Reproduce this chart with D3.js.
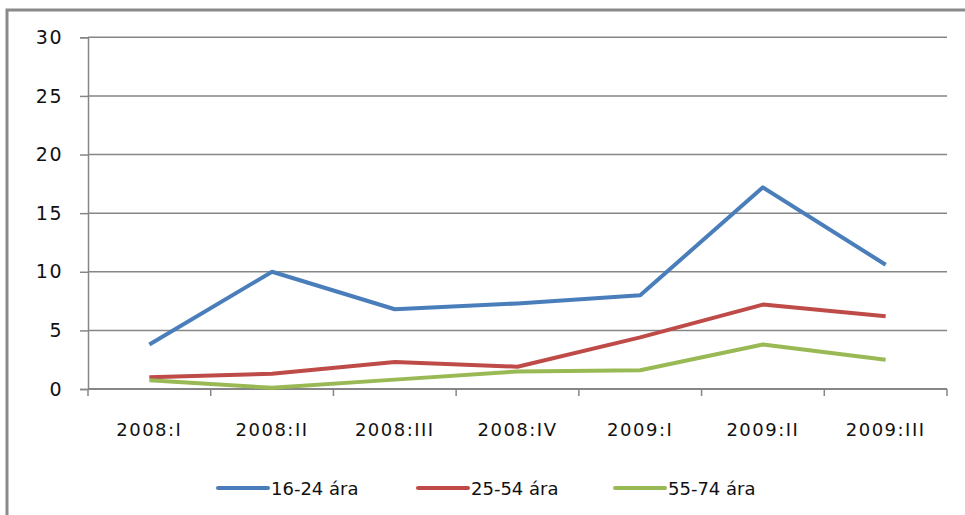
<!DOCTYPE html>
<html><head><meta charset="utf-8">
<script src="https://cdn.jsdelivr.net/npm/d3@7"></script>
<style>body{margin:0;background:#fff}svg{display:block}</style>
</head><body>
<svg id="c" width="965" height="515"></svg>
<script>
const categories = ["2008:I","2008:II","2008:III","2008:IV","2009:I","2009:II","2009:III"];
const seriesNames = ["16-24 ára","25-54 ára","55-74 ára"];
const youth = [3.8, 10.0, 6.8, 7.3, 8.0, 17.2, 10.6];
const prime = [1.0, 1.3, 2.3, 1.9, 4.4, 7.2, 6.2];
const older = [0.75, 0.1, 0.8, 1.5, 1.6, 3.8, 2.5];
const yTicks = [0, 5, 10, 15, 20, 25, 30];
const colors = ["#4A7EBB", "#BE4B48", "#98B954"];

(function(){
const series = [youth, prime, older];
const svg = d3.select("#c");
const font = "DejaVu Sans, sans-serif";

svg.append("path").attr("d", "M7,520 V10 H970").attr("fill","none")
  .attr("stroke","#8a8a8a").attr("stroke-width",3);

const pL = 88, pR = 947, pT = 37.3, pB = 389;
const x = d3.scaleBand().domain(categories).range([pL, pR]);
const y = d3.scaleLinear().domain([0, 30]).range([pB, pT]);

const yAxis = d3.axisLeft(y).tickValues(yTicks).tickSize(8).tickPadding(17);
const gy = svg.append("g").attr("transform", `translate(${pL},0)`).call(yAxis);
gy.select(".domain").attr("stroke","#868686").attr("stroke-width",1.5);
gy.selectAll(".tick line").attr("stroke","#868686").attr("stroke-width",1.5);
gy.selectAll(".tick text").attr("font-family",font).attr("font-size",19)
  .attr("fill","#111").attr("letter-spacing",1.5);
svg.append("g").selectAll("line").data(yTicks.filter(d=>d>0)).join("line")
  .attr("x1", pL).attr("x2", pR).attr("y1", d=>y(d)).attr("y2", d=>y(d))
  .attr("stroke","#868686").attr("stroke-width",1.5);

const gx = svg.append("g").attr("transform", `translate(0,${pB})`);
gx.append("line").attr("x1",pL).attr("x2",pR).attr("stroke","#868686").attr("stroke-width",2);
const bounds = categories.map(c => x(c)).concat([pR]);
gx.selectAll(".tk").data(bounds).join("line").attr("class","tk")
  .attr("x1", d=>d).attr("x2", d=>d).attr("y1",0).attr("y2",7)
  .attr("stroke","#868686").attr("stroke-width",1.5);
gx.selectAll("text").data(categories).join("text")
  .attr("x", d => x(d) + x.bandwidth()/2).attr("y", 47)
  .attr("text-anchor","middle").attr("font-family",font).attr("font-size",18)
  .attr("letter-spacing",1.5).attr("fill","#111").text(d=>d);

const line = d3.line().x((d,i)=>x(categories[i]) + x.bandwidth()/2).y(d=>y(d));
series.forEach((s, k) => {
  svg.append("path").datum(s).attr("d", line).attr("fill","none")
    .attr("stroke", colors[k]).attr("stroke-width",4).attr("stroke-linejoin","round");
});

const legX = [218, 418, 615];
const lg = svg.append("g");
seriesNames.forEach((n,k) => {
  lg.append("line").attr("x1", legX[k]).attr("x2", legX[k]+50).attr("y1",488).attr("y2",488)
    .attr("stroke", colors[k]).attr("stroke-width",4).attr("stroke-linecap","round");
  lg.append("text").attr("x", legX[k]+53).attr("y", 495).attr("font-family",font)
    .attr("font-size",18).attr("fill","#111").text(n);
});
})();
</script>
</body></html>
